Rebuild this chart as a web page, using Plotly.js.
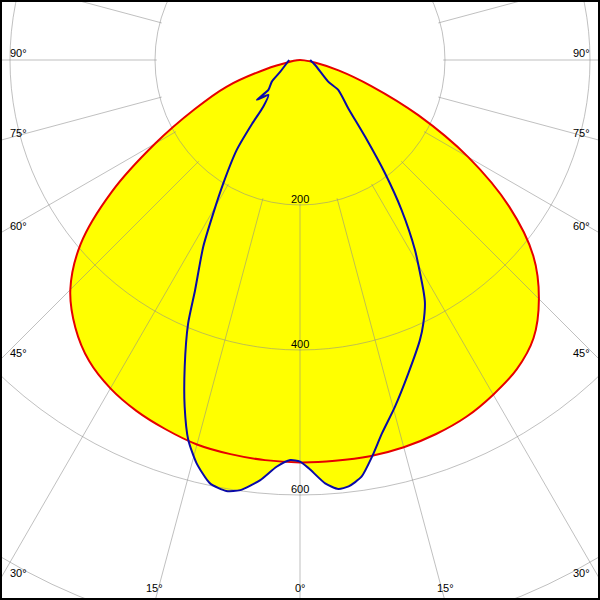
<!DOCTYPE html>
<html>
<head>
<meta charset="utf-8">
<script src="https://cdn.plot.ly/plotly-3.0.1.min.js"></script>
<style>
  html, body { margin: 0; padding: 0; background: #ffffff; overflow: hidden; }
  #wrap { position: relative; width: 600px; height: 600px; overflow: hidden; background: #ffffff; }
  #chart { position: absolute; }
</style>
</head>
<body>
<div id="wrap"><div id="chart"></div></div>
<script>
// ---------- data (candela values) ----------
// red curve: C0 plane (right half) and C180 plane (left half), gamma 0..90
const redGamma = [0, 5, 10, 15, 20, 25, 30, 35, 40, 45, 50, 55, 60, 65, 70, 75, 80, 85, 90];
const redC0    = [556, 555, 555, 553, 549, 543, 533, 521, 501, 466, 420, 352, 268, 180, 104, 55, 22, 6, 0];
const redC180  = [555, 554, 552, 549, 542, 534, 523, 507, 482, 448, 395, 317, 231, 160, 108, 49, 14, 4, 0];

// blue curve: C90 plane (right half) and C270 plane (left half)
const blueC90Gamma  = [0, 1.2, 3.4, 5.1, 6.5, 8.4, 10.3, 12.4, 15.3, 19.1, 23.2, 25.1, 27.2, 28.2, 31.2, 34.1, 36.9, 40.3, 45.0, 51.9, 52.5, 71.6, 90];
const blueC90       = [554, 563, 585, 594, 592, 581, 556, 527, 496, 457, 420, 401, 377, 360, 306, 250, 195, 139, 94, 67, 49, 22, 14];
const blueC270Gamma = [0, 1.4, 3.3, 5.4, 7.9, 9.7, 12.0, 14.4, 16.4, 18.4, 20.6, 23.0, 24.5, 27.4, 29.5, 31.9, 35.1, 36.9, 38.2, 42.2, 47.3, 46.6, 52.5, 59.0, 90];
const blueC270      = [554, 552, 562, 582, 599, 603, 597, 574, 546, 504, 452, 395, 349, 290, 243, 200, 152, 110, 82, 65, 81, 60, 49, 32, 15];

// grid / tick labels
const radialTicks = [200, 400, 600, 800];
const radialTickLabels = ['200', '400', '600'];
const angleTicks = [0, 15, 30, 45, 60, 75, 90, 105, 120, 135, 150, 165, 180, 195, 210, 225, 240, 255, 270, 285, 300, 315, 330, 345];
const angleLabelValues = [90, 75, 60, 45, 30, 15, 0, 15, 30, 45, 60, 75, 90];

// ---------- geometry of the picture ----------
const VIEW = 600;          // window size
const POLE_X = 300, POLE_Y = 60;  // where the pole sits in the window
const PX_PER_CD = 0.725;   // picture scale
const W = 1300;            // plotly canvas (larger than window, clipped)
const RADIUS = W / 2;
const RMAX = RADIUS / PX_PER_CD;

const chartDiv = document.getElementById('chart');
chartDiv.style.left = (POLE_X - W / 2) + 'px';
chartDiv.style.top = (POLE_Y - W / 2) + 'px';
chartDiv.style.width = W + 'px';
chartDiv.style.height = W + 'px';

function paperX(px) { return (px - (POLE_X - W / 2)) / W; }
function paperY(py) { return 1 - (py - (POLE_Y - W / 2)) / W; }

// closed path: left half (negative theta) from 90 down to 0, then right half 0..90
function closedPath(leftG, leftI, rightG, rightI) {
  const theta = [], r = [];
  for (let i = leftG.length - 1; i >= 0; i--) { theta.push(-leftG[i]); r.push(leftI[i]); }
  for (let i = 1; i < rightG.length; i++) { theta.push(rightG[i]); r.push(rightI[i]); }
  return { theta, r };
}
const redPath = closedPath(redGamma, redC180, redGamma, redC0);
const bluePath = closedPath(blueC270Gamma, blueC270, blueC90Gamma, blueC90);

const YELLOW = '#ffff00';
const RED_LINE = { width: 2, color: '#e60000', shape: 'spline', smoothing: 1 };
const BLUE_LINE = { width: 2, color: '#0a0aa8', shape: 'spline', smoothing: 0.6 };
const traces = [
  { type: 'scatterpolar', subplot: 'polar', mode: 'lines', theta: redPath.theta, r: redPath.r,
    fill: 'toself', fillcolor: YELLOW, line: { width: 0, color: YELLOW, shape: 'spline', smoothing: 1 }, hoverinfo: 'skip' },
  { type: 'scatterpolar', subplot: 'polar', mode: 'lines', theta: bluePath.theta, r: bluePath.r,
    fill: 'toself', fillcolor: YELLOW, line: { width: 0, color: YELLOW, shape: 'spline', smoothing: 0.6 }, hoverinfo: 'skip' },
  // invisible trace so polar2 (grid layer) is drawn
  { type: 'scatterpolar', subplot: 'polar2', mode: 'lines', theta: [0], r: [300],
    line: { width: 0 }, hoverinfo: 'skip', opacity: 0 },
  { type: 'scatterpolar', subplot: 'polar3', mode: 'lines', theta: redPath.theta, r: redPath.r,
    line: RED_LINE, hoverinfo: 'skip' },
  { type: 'scatterpolar', subplot: 'polar3', mode: 'lines', theta: bluePath.theta, r: bluePath.r,
    line: BLUE_LINE, hoverinfo: 'skip' }
];

const hiddenRadial = { range: [0, RMAX], showgrid: false, showline: false, showticklabels: false, ticks: '' };
const hiddenAngular = { rotation: -90, direction: 'counterclockwise', showgrid: false, showline: false, showticklabels: false, ticks: '' };
const GRID = 'rgba(140,140,140,0.55)';
const HOLE_R = radialTicks[0] - 2.5;

const layout = {
  width: W, height: W,
  margin: { l: 0, r: 0, t: 0, b: 0, pad: 0 },
  paper_bgcolor: '#ffffff',
  showlegend: false,
  polar: { domain: { x: [0, 1], y: [0, 1] }, bgcolor: '#ffffff',
    radialaxis: hiddenRadial, angularaxis: hiddenAngular },
  polar2: { domain: { x: [0, 1], y: [0, 1] }, bgcolor: 'rgba(0,0,0,0)', hole: HOLE_R / RMAX,
    radialaxis: { range: [HOLE_R, RMAX], tickmode: 'array', tickvals: radialTicks, showgrid: true,
      gridcolor: GRID, gridwidth: 1, showline: false, showticklabels: false, ticks: '' },
    angularaxis: { rotation: -90, direction: 'counterclockwise', tickmode: 'array', tickvals: angleTicks,
      showgrid: true, gridcolor: GRID, gridwidth: 1, showline: false, showticklabels: false, ticks: '' } },
  polar3: { domain: { x: [0, 1], y: [0, 1] }, bgcolor: 'rgba(0,0,0,0)',
    radialaxis: hiddenRadial, angularaxis: hiddenAngular },
  annotations: [],
  shapes: [
    { type: 'rect', xref: 'paper', yref: 'paper', layer: 'above',
      x0: paperX(1), x1: paperX(VIEW - 1), y0: paperY(1), y1: paperY(VIEW - 1),
      line: { color: '#000000', width: 2 } }
  ]
};

const FONT = { family: 'Liberation Sans, Arial, sans-serif', size: 11, color: '#000000' };

// angle labels where each spoke leaves the window
angleLabelValues.forEach(function (g, i) {
  const side = i < 6 ? -1 : (i === 6 ? 0 : 1);
  const rad = g * Math.PI / 180;
  const dx = side * Math.sin(rad), dy = Math.cos(rad);
  let px, py;
  let tSide = Infinity, tBottom = Infinity;
  if (dx !== 0) tSide = (side < 0 ? POLE_X : VIEW - POLE_X) / Math.abs(dx);
  if (dy > 1e-9) tBottom = (VIEW - POLE_Y) / dy;
  if (tSide < tBottom) {
    px = side < 0 ? 18 : VIEW - 19;
    py = POLE_Y + dy * tSide - 7;
  } else {
    px = POLE_X + dx * tBottom - (side < 0 ? 1 : (side > 0 ? -1 : 0));
    py = VIEW - 12;
  }
  layout.annotations.push({ xref: 'paper', yref: 'paper', x: paperX(px), y: paperY(py),
    xanchor: 'center', yanchor: 'middle', showarrow: false, text: g + '°', font: FONT });
});

// radial value labels just above each circle on the 0° spoke
radialTickLabels.forEach(function (t, i) {
  const rr = radialTicks[i];
  layout.annotations.push({ xref: 'paper', yref: 'paper', x: paperX(POLE_X), y: paperY(POLE_Y + rr * PX_PER_CD - 6.5),
    xanchor: 'center', yanchor: 'middle', showarrow: false, text: t, font: FONT });
});

Plotly.newPlot(chartDiv, traces, layout, { staticPlot: true, displayModeBar: false });
</script>
</body>
</html>
